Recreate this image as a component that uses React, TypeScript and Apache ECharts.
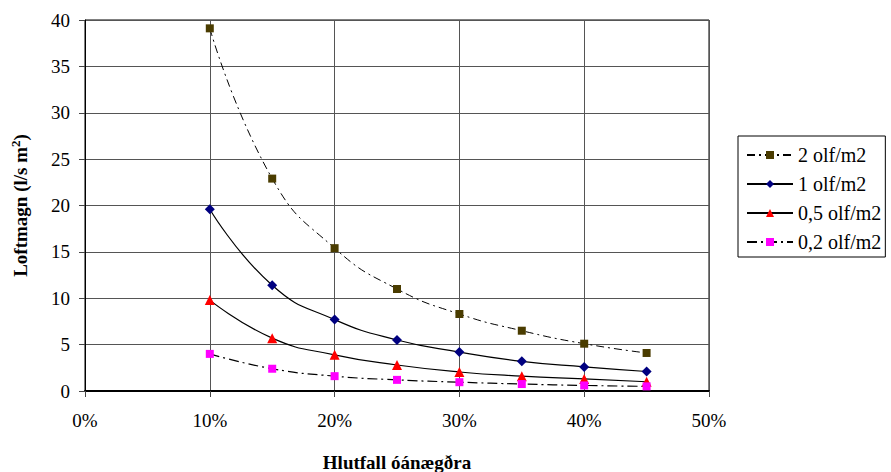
import React, { useEffect, useRef } from "react";
import * as echarts from "echarts";

// Hlutfall óánægðra (%) á x-ás
const shares = [10, 15, 20, 25, 30, 35, 40, 45];

// Loftmagn (l/s m²) fyrir hverja mengunarbyrði
const olf2 = [39.1, 22.9, 15.4, 11.0, 8.3, 6.5, 5.1, 4.1];
const olf1 = [19.6, 11.4, 7.7, 5.5, 4.2, 3.2, 2.6, 2.1];
const olf05 = [9.8, 5.7, 3.9, 2.8, 2.05, 1.6, 1.3, 1.0];
const olf02 = [4.0, 2.4, 1.6, 1.2, 0.95, 0.75, 0.6, 0.5];

const seriesNames = ["2 olf/m2", "1 olf/m2", "0,5 olf/m2", "0,2 olf/m2"];

const FONT = "'Liberation Serif', 'Times New Roman', serif";

const pairs = (vals: number[]) => shares.map((x, i) => [x, vals[i]]);

export default function App() {
  const ref = useRef<HTMLDivElement>(null);

  useEffect(() => {
    if (!ref.current) return;
    const chart = echarts.init(ref.current, undefined, { renderer: "svg" });
    const axisText = { color: "#000", fontFamily: FONT, fontSize: 19 };

    chart.setOption({
      animation: false,
      backgroundColor: "#fff",
      textStyle: { fontFamily: FONT, fontSize: 19 },
      grid: {
        left: 85,
        width: 624,
        top: 20,
        height: 371,
        outerBoundsMode: "none",
        containLabel: false,
        show: true,
        borderColor: "#000",
        borderWidth: 1,
      },
      legend: {
        data: seriesNames,
        orient: "vertical",
        left: 738,
        top: 136,
        itemWidth: 46,
        itemHeight: 10,
        itemGap: 9,
        padding: [9, 4, 5, 8],
        borderColor: "#000",
        borderWidth: 1,
        textStyle: { color: "#000", fontFamily: FONT, fontSize: 20, lineHeight: 20 },
      },
      xAxis: {
        type: "value",
        min: 0,
        max: 50,
        interval: 10,
        axisLine: { show: true, lineStyle: { color: "#000", width: 2 } },
        axisTick: { show: true, inside: false, length: 6, lineStyle: { color: "#444" } },
        splitLine: { show: true, lineStyle: { color: "#555", width: 1 } },
        axisLabel: { ...axisText, margin: 20, formatter: (v: number) => `${v}%` },
        name: "Hlutfall óánægðra",
        nameLocation: "middle",
        nameGap: 62,
        nameTextStyle: { ...axisText, fontWeight: "bold", fontSize: 19 },
      },
      yAxis: {
        type: "value",
        min: 0,
        max: 40,
        interval: 5,
        axisLine: { show: true, lineStyle: { color: "#000", width: 1 } },
        axisTick: { show: true, inside: false, length: 6, lineStyle: { color: "#444" } },
        splitLine: { show: true, lineStyle: { color: "#555", width: 1 } },
        axisLabel: { ...axisText, margin: 15 },
        name: "Loftmagn (l/s m{sup|2})",
        nameLocation: "middle",
        nameRotate: 90,
        nameGap: 54,
        nameTextStyle: {
          ...axisText,
          fontWeight: "bold",
          fontSize: 19,
          rich: {
            sup: { fontFamily: FONT, fontWeight: "bold", fontSize: 13, color: "#000", verticalAlign: "top", padding: [0, 0, 9, 0] },
          },
        },
      },
      series: [
        {
          name: seriesNames[0],
          type: "line",
          data: pairs(olf2),
          smooth: true,
          symbol: "rect",
          symbolSize: 8,
          itemStyle: { color: "#4a3c00" },
          lineStyle: { color: "#000", width: 1, type: [8, 4, 2, 4] },
        },
        {
          name: seriesNames[1],
          type: "line",
          data: pairs(olf1),
          smooth: true,
          symbol: "diamond",
          symbolSize: 10,
          itemStyle: { color: "#000080" },
          lineStyle: { color: "#000", width: 1.2 },
        },
        {
          name: seriesNames[2],
          type: "line",
          data: pairs(olf05),
          smooth: true,
          symbol: "triangle",
          symbolSize: 10,
          itemStyle: { color: "#ff0000" },
          lineStyle: { color: "#000", width: 1.2 },
        },
        {
          name: seriesNames[3],
          type: "line",
          data: pairs(olf02),
          smooth: true,
          symbol: "rect",
          symbolSize: 8,
          itemStyle: { color: "#ff00ff" },
          lineStyle: { color: "#000", width: 1.2, type: [10, 4, 2, 4] },
        },
      ],
    });

    return () => chart.dispose();
  }, []);

  return <div ref={ref} style={{ width: 891, height: 472, position: "absolute", left: 0, top: 0 }} />;
}
